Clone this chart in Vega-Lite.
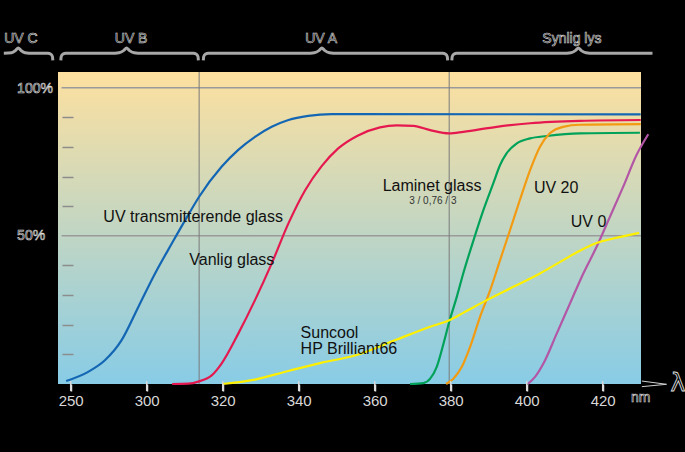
{
  "$schema": "https://vega.github.io/schema/vega-lite/v6.json",
  "width": 583,
  "height": 312,
  "autosize": "none",
  "padding": {"left": 58, "top": 72, "right": 44, "bottom": 68},
  "background": "black",
  "config": {"view": {"stroke": null}},
  "datasets": {
    "curves": [
      {"series": "UV transmitterende glass", "x": 278.8, "y": 1.0},
      {"series": "UV transmitterende glass", "x": 284.6, "y": 4.1},
      {"series": "UV transmitterende glass", "x": 289.0, "y": 8.0},
      {"series": "UV transmitterende glass", "x": 293.4, "y": 14.8},
      {"series": "UV transmitterende glass", "x": 297.8, "y": 26.0},
      {"series": "UV transmitterende glass", "x": 302.2, "y": 37.3},
      {"series": "UV transmitterende glass", "x": 306.6, "y": 47.4},
      {"series": "UV transmitterende glass", "x": 310.9, "y": 57.0},
      {"series": "UV transmitterende glass", "x": 313.8, "y": 63.2},
      {"series": "UV transmitterende glass", "x": 319.7, "y": 73.3},
      {"series": "UV transmitterende glass", "x": 324.1, "y": 79.0},
      {"series": "UV transmitterende glass", "x": 328.5, "y": 83.4},
      {"series": "UV transmitterende glass", "x": 332.9, "y": 86.8},
      {"series": "UV transmitterende glass", "x": 337.3, "y": 89.1},
      {"series": "UV transmitterende glass", "x": 342.5, "y": 90.5},
      {"series": "UV transmitterende glass", "x": 348.7, "y": 91.1},
      {"series": "UV transmitterende glass", "x": 354.8, "y": 91.1},
      {"series": "UV transmitterende glass", "x": 430.0, "y": 91.0},
      {"series": "Vanlig glass", "x": 306.7, "y": 0.0},
      {"series": "Vanlig glass", "x": 310.9, "y": 0.1},
      {"series": "Vanlig glass", "x": 313.8, "y": 0.9},
      {"series": "Vanlig glass", "x": 317.1, "y": 2.9},
      {"series": "Vanlig glass", "x": 319.7, "y": 6.9},
      {"series": "Vanlig glass", "x": 324.1, "y": 17.0},
      {"series": "Vanlig glass", "x": 328.5, "y": 28.3},
      {"series": "Vanlig glass", "x": 332.9, "y": 40.7},
      {"series": "Vanlig glass", "x": 337.3, "y": 54.2},
      {"series": "Vanlig glass", "x": 341.7, "y": 65.4},
      {"series": "Vanlig glass", "x": 346.1, "y": 73.6},
      {"series": "Vanlig glass", "x": 350.4, "y": 79.5},
      {"series": "Vanlig glass", "x": 355.5, "y": 83.8},
      {"series": "Vanlig glass", "x": 361.4, "y": 86.6},
      {"series": "Vanlig glass", "x": 365.8, "y": 87.3},
      {"series": "Vanlig glass", "x": 370.2, "y": 87.1},
      {"series": "Vanlig glass", "x": 374.6, "y": 85.7},
      {"series": "Vanlig glass", "x": 379.6, "y": 84.6},
      {"series": "Vanlig glass", "x": 383.3, "y": 85.1},
      {"series": "Vanlig glass", "x": 392.1, "y": 86.8},
      {"series": "Vanlig glass", "x": 400.9, "y": 88.0},
      {"series": "Vanlig glass", "x": 414.0, "y": 88.8},
      {"series": "Vanlig glass", "x": 430.0, "y": 89.1},
      {"series": "Laminet glass", "x": 369.3, "y": 0.0},
      {"series": "Laminet glass", "x": 372.8, "y": 0.3},
      {"series": "Laminet glass", "x": 374.6, "y": 1.8},
      {"series": "Laminet glass", "x": 376.3, "y": 5.7},
      {"series": "Laminet glass", "x": 378.1, "y": 13.6},
      {"series": "Laminet glass", "x": 379.6, "y": 20.9},
      {"series": "Laminet glass", "x": 381.6, "y": 29.4},
      {"series": "Laminet glass", "x": 383.3, "y": 37.3},
      {"series": "Laminet glass", "x": 386.0, "y": 48.5},
      {"series": "Laminet glass", "x": 388.6, "y": 58.7},
      {"series": "Laminet glass", "x": 391.2, "y": 67.7},
      {"series": "Laminet glass", "x": 393.0, "y": 73.9},
      {"series": "Laminet glass", "x": 394.7, "y": 77.8},
      {"series": "Laminet glass", "x": 397.4, "y": 81.2},
      {"series": "Laminet glass", "x": 400.9, "y": 82.9},
      {"series": "Laminet glass", "x": 405.3, "y": 83.7},
      {"series": "Laminet glass", "x": 414.0, "y": 84.6},
      {"series": "Laminet glass", "x": 429.8, "y": 84.8},
      {"series": "UV 20", "x": 378.8, "y": 0.0},
      {"series": "UV 20", "x": 380.7, "y": 1.8},
      {"series": "UV 20", "x": 382.9, "y": 5.7},
      {"series": "UV 20", "x": 385.1, "y": 12.5},
      {"series": "UV 20", "x": 387.7, "y": 22.6},
      {"series": "UV 20", "x": 390.4, "y": 31.7},
      {"series": "UV 20", "x": 393.0, "y": 41.8},
      {"series": "UV 20", "x": 395.6, "y": 51.9},
      {"series": "UV 20", "x": 398.2, "y": 62.1},
      {"series": "UV 20", "x": 400.9, "y": 72.2},
      {"series": "UV 20", "x": 403.5, "y": 80.1},
      {"series": "UV 20", "x": 406.1, "y": 84.6},
      {"series": "UV 20", "x": 409.6, "y": 86.8},
      {"series": "UV 20", "x": 414.0, "y": 87.5},
      {"series": "UV 20", "x": 430.0, "y": 87.7},
      {"series": "UV 0", "x": 400.3, "y": 0.0},
      {"series": "UV 0", "x": 402.2, "y": 2.4},
      {"series": "UV 0", "x": 404.4, "y": 6.9},
      {"series": "UV 0", "x": 407.9, "y": 17.0},
      {"series": "UV 0", "x": 411.4, "y": 27.2},
      {"series": "UV 0", "x": 414.9, "y": 37.3},
      {"series": "UV 0", "x": 418.4, "y": 46.3},
      {"series": "UV 0", "x": 421.9, "y": 56.4},
      {"series": "UV 0", "x": 425.4, "y": 66.6},
      {"series": "UV 0", "x": 428.9, "y": 77.3},
      {"series": "UV 0", "x": 432.0, "y": 84.3},
      {"series": "Suncool HP Brilliant66", "x": 319.9, "y": 0.0},
      {"series": "Suncool HP Brilliant66", "x": 328.5, "y": 1.5},
      {"series": "Suncool HP Brilliant66", "x": 337.3, "y": 4.4},
      {"series": "Suncool HP Brilliant66", "x": 346.1, "y": 7.2},
      {"series": "Suncool HP Brilliant66", "x": 354.8, "y": 9.6},
      {"series": "Suncool HP Brilliant66", "x": 365.8, "y": 15.0},
      {"series": "Suncool HP Brilliant66", "x": 374.6, "y": 19.3},
      {"series": "Suncool HP Brilliant66", "x": 379.6, "y": 21.5},
      {"series": "Suncool HP Brilliant66", "x": 383.3, "y": 24.0},
      {"series": "Suncool HP Brilliant66", "x": 389.5, "y": 28.3},
      {"series": "Suncool HP Brilliant66", "x": 396.5, "y": 32.8},
      {"series": "Suncool HP Brilliant66", "x": 403.5, "y": 37.3},
      {"series": "Suncool HP Brilliant66", "x": 409.6, "y": 41.8},
      {"series": "Suncool HP Brilliant66", "x": 414.0, "y": 45.0},
      {"series": "Suncool HP Brilliant66", "x": 418.4, "y": 47.6},
      {"series": "Suncool HP Brilliant66", "x": 422.8, "y": 49.1},
      {"series": "Suncool HP Brilliant66", "x": 429.6, "y": 51.0}
    ],
    "braces": [
      {"band": "UV C", "x": 262.4, "y": 111.6},
      {"band": "UV C", "x": 264.4, "y": 111.8},
      {"band": "UV C", "x": 265.5, "y": 112.6},
      {"band": "UV C", "x": 266.2, "y": 113.4},
      {"band": "UV C", "x": 266.9, "y": 112.6},
      {"band": "UV C", "x": 268.0, "y": 111.8},
      {"band": "UV C", "x": 270.0, "y": 111.6},
      {"band": "UV C", "x": 274.0, "y": 111.6},
      {"band": "UV C", "x": 274.8, "y": 111.3},
      {"band": "UV C", "x": 275.2, "y": 110.5},
      {"band": "UV C", "x": 275.3, "y": 109.2},
      {"band": "UV B", "x": 277.4, "y": 109.2},
      {"band": "UV B", "x": 277.5, "y": 110.5},
      {"band": "UV B", "x": 277.9, "y": 111.3},
      {"band": "UV B", "x": 278.7, "y": 111.6},
      {"band": "UV B", "x": 290.7, "y": 111.6},
      {"band": "UV B", "x": 292.7, "y": 111.8},
      {"band": "UV B", "x": 294.0, "y": 112.6},
      {"band": "UV B", "x": 294.7, "y": 113.4},
      {"band": "UV B", "x": 295.4, "y": 112.6},
      {"band": "UV B", "x": 296.7, "y": 111.8},
      {"band": "UV B", "x": 298.7, "y": 111.6},
      {"band": "UV B", "x": 312.3, "y": 111.6},
      {"band": "UV B", "x": 313.1, "y": 111.3},
      {"band": "UV B", "x": 313.5, "y": 110.5},
      {"band": "UV B", "x": 313.6, "y": 109.2},
      {"band": "UV A", "x": 314.9, "y": 109.2},
      {"band": "UV A", "x": 315.0, "y": 110.5},
      {"band": "UV A", "x": 315.4, "y": 111.3},
      {"band": "UV A", "x": 316.2, "y": 111.6},
      {"band": "UV A", "x": 342.1, "y": 111.6},
      {"band": "UV A", "x": 344.1, "y": 111.8},
      {"band": "UV A", "x": 345.4, "y": 112.6},
      {"band": "UV A", "x": 346.1, "y": 113.4},
      {"band": "UV A", "x": 346.8, "y": 112.6},
      {"band": "UV A", "x": 348.1, "y": 111.8},
      {"band": "UV A", "x": 350.1, "y": 111.6},
      {"band": "UV A", "x": 377.9, "y": 111.6},
      {"band": "UV A", "x": 378.7, "y": 111.3},
      {"band": "UV A", "x": 379.1, "y": 110.5},
      {"band": "UV A", "x": 379.2, "y": 109.2},
      {"band": "Synlig lys", "x": 380.3, "y": 109.2},
      {"band": "Synlig lys", "x": 380.4, "y": 110.5},
      {"band": "Synlig lys", "x": 380.8, "y": 111.3},
      {"band": "Synlig lys", "x": 381.6, "y": 111.6},
      {"band": "Synlig lys", "x": 409.6, "y": 111.6},
      {"band": "Synlig lys", "x": 411.6, "y": 111.8},
      {"band": "Synlig lys", "x": 412.9, "y": 112.6},
      {"band": "Synlig lys", "x": 413.6, "y": 113.4},
      {"band": "Synlig lys", "x": 414.3, "y": 112.6},
      {"band": "Synlig lys", "x": 415.6, "y": 111.8},
      {"band": "Synlig lys", "x": 417.6, "y": 111.6},
      {"band": "Synlig lys", "x": 433.1, "y": 111.6}
    ]
  },
  "layer": [
    {
      "data": {"values": [{}]},
      "mark": {
        "type": "rect",
        "color": {
          "gradient": "linear",
          "x1": 0, "y1": 0, "x2": 0, "y2": 1,
          "stops": [
            {"offset": 0, "color": "#fde09f"},
            {"offset": 1, "color": "#88cce6"}
          ]
        }
      },
      "encoding": {
        "x": {"datum": 276.66, "type": "quantitative",
          "scale": {"domain": [276.66, 430.08], "nice": false, "zero": false}},
        "x2": {"datum": 430.08},
        "y": {"datum": 0, "type": "quantitative",
          "scale": {"domain": [0, 105.3], "nice": false, "zero": false}},
        "y2": {"datum": 105.3}
      }
    },
    {
      "data": {"values": [{"g": 50}, {"g": 100}]},
      "mark": {"type": "rule", "color": "#9a9a9a", "strokeWidth": 1.5},
      "encoding": {
        "x": {"datum": 277.6, "type": "quantitative", "scale": {"domain": [276.66, 430.08], "nice": false, "zero": false}},
        "x2": {"datum": 430.08},
        "y": {"field": "g", "type": "quantitative", "scale": {"domain": [0, 105.3], "nice": false, "zero": false}}
      }
    },
    {
      "data": {"values": [{"v": 313.8}, {"v": 379.6}]},
      "mark": {"type": "rule", "color": "#7a7a7a", "strokeWidth": 1},
      "encoding": {
        "x": {"field": "v", "type": "quantitative", "scale": {"domain": [276.66, 430.08], "nice": false, "zero": false}},
        "y": {"datum": 0, "type": "quantitative", "scale": {"domain": [0, 105.3], "nice": false, "zero": false}},
        "y2": {"datum": 105.3}
      }
    },
    {
      "data": {"name": "curves"},
      "mark": {"type": "line", "interpolate": "monotone", "strokeWidth": 2.2},
      "encoding": {
        "x": {"field": "x", "type": "quantitative",
          "scale": {"domain": [276.66, 430.08], "nice": false, "zero": false},
          "axis": {"values": [280, 300, 320, 340, 360, 380, 400, 420],
            "labelExpr": "datum.value == 280 ? '250' : datum.label",
            "title": null, "domain": false, "grid": false, "zindex": 2,
            "ticks": true, "tickColor": "#e0e0e0", "tickSize": 7, "tickWidth": 1.5, "offset": 0,
            "labelFontSize": 15, "labelColor": "#d8d8d8", "labelFont": "Liberation Sans",
            "labelPadding": 2}},
        "y": {"field": "y", "type": "quantitative",
          "scale": {"domain": [0, 105.3], "nice": false, "zero": false},
          "axis": {"values": [10, 20, 30, 40, 60, 70, 80, 90], "labels": false,
            "title": null, "domain": false, "grid": false, "zindex": 1,
            "tickColor": "#8c8c8c", "tickSize": 11, "tickWidth": 1.5, "offset": -15}},
        "color": {"field": "series", "type": "nominal", "legend": null,
          "scale": {"domain": ["UV transmitterende glass", "Vanlig glass", "Laminet glass", "UV 20", "UV 0", "Suncool HP Brilliant66"],
            "range": ["#1366b3", "#e5194f", "#00a25a", "#f29b12", "#b356a6", "#fff000"]}}
      }
    },
    {
      "data": {"name": "braces"},
      "mark": {"type": "line", "interpolate": "monotone", "strokeWidth": 3, "color": "#a8a8a8"},
      "encoding": {
        "x": {"field": "x", "type": "quantitative", "scale": {"domain": [276.66, 430.08], "nice": false, "zero": false}},
        "y": {"field": "y", "type": "quantitative", "scale": {"domain": [0, 105.3], "nice": false, "zero": false}},
        "detail": {"field": "band", "type": "nominal"}
      }
    },
    {
      "data": {"values": [
        {"seg": "a", "x": 430.3, "y": 1.0},
        {"seg": "a", "x": 436.8, "y": -0.1},
        {"seg": "b", "x": 430.3, "y": -0.9},
        {"seg": "b", "x": 436.8, "y": -0.1}
      ]},
      "mark": {"type": "line", "strokeWidth": 1, "color": "#d0d0d0"},
      "encoding": {
        "x": {"field": "x", "type": "quantitative", "scale": {"domain": [276.66, 430.08], "nice": false, "zero": false}},
        "y": {"field": "y", "type": "quantitative", "scale": {"domain": [0, 105.3], "nice": false, "zero": false}},
        "detail": {"field": "seg", "type": "nominal"}
      }
    },
    {
      "data": {"values": [
        {"text": "UV transmitterende glass", "x": 288.6, "y": 56.4},
        {"text": "Vanlig glass", "x": 311.2, "y": 42.0},
        {"text": "Suncool", "x": 340.5, "y": 17.2},
        {"text": "HP Brilliant66", "x": 340.5, "y": 11.9},
        {"text": "Laminet glass", "x": 362.1, "y": 66.8},
        {"text": "UV 20", "x": 401.9, "y": 66.0},
        {"text": "UV 0", "x": 411.6, "y": 54.7}
      ]},
      "mark": {"type": "text", "align": "left", "baseline": "middle", "fontSize": 16, "font": "Liberation Sans", "color": "#111111"},
      "encoding": {
        "x": {"field": "x", "type": "quantitative", "scale": {"domain": [276.66, 430.08], "nice": false, "zero": false}},
        "y": {"field": "y", "type": "quantitative", "scale": {"domain": [0, 105.3], "nice": false, "zero": false}},
        "text": {"field": "text"}
      }
    },
    {
      "data": {"values": [{"text": "3 / 0,76 / 3", "x": 375.3, "y": 61.8}]},
      "mark": {"type": "text", "align": "center", "baseline": "middle", "fontSize": 10, "font": "Liberation Sans", "color": "#333333"},
      "encoding": {
        "x": {"field": "x", "type": "quantitative", "scale": {"domain": [276.66, 430.08], "nice": false, "zero": false}},
        "y": {"field": "y", "type": "quantitative", "scale": {"domain": [0, 105.3], "nice": false, "zero": false}},
        "text": {"field": "text"}
      }
    },
    {
      "data": {"values": [
        {"text": "UV C", "x": 266.9, "y": 116.5},
        {"text": "UV B", "x": 295.9, "y": 116.5},
        {"text": "UV A", "x": 345.9, "y": 116.5},
        {"text": "Synlig lys", "x": 411.9, "y": 116.5},
        {"text": "nm", "x": 430.0, "y": -4.8}
      ]},
      "mark": {"type": "text", "align": "center", "baseline": "middle", "fontSize": 14, "font": "Liberation Sans", "fill": "black", "stroke": "#dddddd", "strokeWidth": 0.6},
      "encoding": {
        "x": {"field": "x", "type": "quantitative", "scale": {"domain": [276.66, 430.08], "nice": false, "zero": false}},
        "y": {"field": "y", "type": "quantitative", "scale": {"domain": [0, 105.3], "nice": false, "zero": false}},
        "text": {"field": "text"}
      }
    },
    {
      "data": {"values": [
        {"text": "100%", "x": 265.9, "y": 99.6},
        {"text": "50%", "x": 265.9, "y": 49.8}
      ]},
      "mark": {"type": "text", "align": "left", "baseline": "middle", "fontSize": 14, "font": "Liberation Sans", "fill": "black", "stroke": "#dddddd", "strokeWidth": 0.6},
      "encoding": {
        "x": {"field": "x", "type": "quantitative", "scale": {"domain": [276.66, 430.08], "nice": false, "zero": false}},
        "y": {"field": "y", "type": "quantitative", "scale": {"domain": [0, 105.3], "nice": false, "zero": false}},
        "text": {"field": "text"}
      }
    },
    {
      "data": {"values": [{"text": "λ", "x": 439.8, "y": 0.4}]},
      "mark": {"type": "text", "align": "center", "baseline": "middle", "fontSize": 25, "font": "DejaVu Sans", "fill": "black", "stroke": "#dddddd", "strokeWidth": 0.9},
      "encoding": {
        "x": {"field": "x", "type": "quantitative", "scale": {"domain": [276.66, 430.08], "nice": false, "zero": false}},
        "y": {"field": "y", "type": "quantitative", "scale": {"domain": [0, 105.3], "nice": false, "zero": false}},
        "text": {"field": "text"}
      }
    },
    {
      "data": {"values": [{"t": 280}, {"t": 300}, {"t": 320}, {"t": 340}, {"t": 360}, {"t": 380}, {"t": 400}, {"t": 420}]},
      "mark": {"type": "rule", "color": "#d8d8d8", "strokeWidth": 1.5},
      "encoding": {
        "x": {"field": "t", "type": "quantitative", "scale": {"domain": [276.66, 430.08], "nice": false, "zero": false}},
        "y": {"datum": -2.4, "type": "quantitative", "scale": {"domain": [0, 105.3], "nice": false, "zero": false}},
        "y2": {"datum": 1.0}
      }
    }
  ]
}
